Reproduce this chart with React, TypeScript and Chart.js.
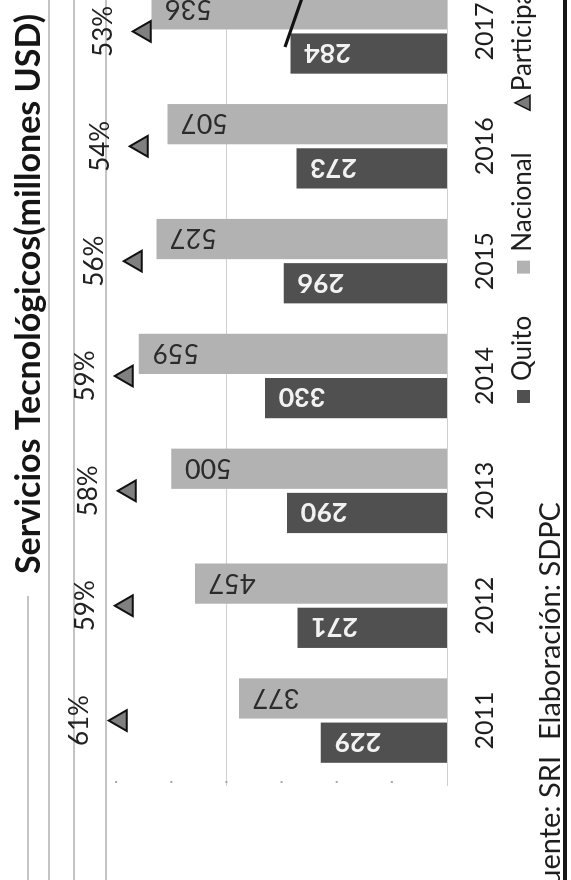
import React, { useEffect, useRef } from "react";
import { Chart, registerables } from "chart.js";

Chart.register(...registerables);

// ---- data ----
const years = ["2011", "2012", "2013", "2014", "2015", "2016", "2017"];
const quito = [229, 271, 290, 330, 296, 273, 284];
const nacional = [377, 457, 500, 559, 527, 507, 536];
const participacion = [61, 59, 58, 59, 56, 54, 53];
const seriesNames = ["Quito", "Nacional", "Participación"];
const titleText = "Servicios Tecnológicos(millones USD)";
const sourceText = "Fuente: SRI";
const creditText = "Elaboración: SDPC";
const minorTicks = [100, 200, 300, 400, 500, 600];

const FONT = "Lato, 'Open Sans', sans-serif";
const DARK = "#505050";
const LIGHT = "#b2b2b2";
const CW = 920; // canvas width (rotated: page height + cut-off part)
const CH = 571; // canvas height (rotated: page width)

export default function App() {
  const ref = useRef<HTMLCanvasElement>(null);

  useEffect(() => {
    const canvas = ref.current;
    if (!canvas) return;

    const decor = {
      id: "decor",
      beforeDatasetsDraw(chart: any) {
        const ctx = chart.ctx as CanvasRenderingContext2D;
        const ca = chart.chartArea;
        const y = chart.scales.y;
        ctx.save();
        // grid lines
        ctx.strokeStyle = "#d0d0d0";
        ctx.lineWidth = 1;
        y.ticks
          .filter((t: any) => t.value % 400 === 0)
          .forEach((t: any) => {
            const py = Math.round(y.getPixelForValue(t.value)) + 0.5;
            ctx.beginPath();
            ctx.moveTo(ca.left - 8, py);
            ctx.lineTo(ca.right, py);
            ctx.stroke();
          });
        // small tick dots
        ctx.fillStyle = "#a8a8a8";
        minorTicks.forEach((val) => {
          const py = y.getPixelForValue(val);
          ctx.fillRect(ca.left - 5, py - 1, 2, 2);
        });
        ctx.restore();
      },
      afterDatasetsDraw(chart: any) {
        const ctx = chart.ctx as CanvasRenderingContext2D;
        const xs = chart.scales.x;
        ctx.save();
        // value labels inside bars (rotated)
        const drawBarLabels = (di: number, vals: number[], color: string, weight: string) => {
          const meta = chart.getDatasetMeta(di);
          meta.data.forEach((bar: any, i: number) => {
            const p = bar.getProps(["x", "y"], true);
            ctx.save();
            ctx.translate(p.x, p.y + 37);
            ctx.rotate(-Math.PI / 2);
            ctx.font = `${weight} 27px ${FONT}`;
            ctx.fillStyle = color;
            ctx.textAlign = "center";
            ctx.textBaseline = "middle";
            ctx.fillText(String(vals[i]), 0, 1);
            ctx.restore();
          });
        };
        drawBarLabels(0, quito, "#f2f2f2", "bold");
        drawBarLabels(1, nacional, "#2b2b2b", "normal");

        // percent labels
        const pm = chart.getDatasetMeta(2);
        ctx.font = `26px ${FONT}`;
        ctx.fillStyle = "#222";
        ctx.textAlign = "center";
        ctx.textBaseline = "alphabetic";
        pm.data.forEach((pt: any, i: number) => {
          const p = pt.getProps(["x", "y"], true);
          ctx.fillText(participacion[i] + "%", p.x, p.y - 33);
        });

        // category labels
        ctx.font = `25px ${FONT}`;
        ctx.fillStyle = "#1e1e1e";
        years.forEach((yr, i) => {
          ctx.fillText(yr, xs.getPixelForValue(i), 493);
        });

        // title
        ctx.font = `bold 34px ${FONT}`;
        ctx.fillStyle = "#151515";
        ctx.fillText(titleText, 586, 40);

        // legend
        ctx.font = `26px ${FONT}`;
        ctx.textAlign = "left";
        let u = 477;
        chart.data.datasets.forEach((ds: any, i: number) => {
          if (i < 2) {
            ctx.fillStyle = ds.backgroundColor;
            ctx.fillRect(u, 517, 13, 13);
          } else {
            ctx.beginPath();
            ctx.moveTo(u + 7.5, 515);
            ctx.lineTo(u + 15, 530);
            ctx.lineTo(u, 530);
            ctx.closePath();
            ctx.fillStyle = "#7a7a7a";
            ctx.fill();
            ctx.strokeStyle = "#111";
            ctx.lineWidth = 1.5;
            ctx.stroke();
          }
          u += i < 2 ? 22 : 19;
          ctx.fillStyle = "#1e1e1e";
          ctx.fillText(ds.label, u, 531);
          u += ctx.measureText(ds.label).width + 42;
        });

        // footer
        ctx.font = `29px ${FONT}`;
        ctx.textAlign = "right";
        ctx.fillText(sourceText, 124, 560);
        ctx.textAlign = "left";
        ctx.fillText(creditText, 140, 560);
        ctx.strokeStyle = "#161616";
        ctx.lineWidth = 4;
        ctx.beginPath();
        ctx.moveTo(0, 565);
        ctx.lineTo(CW, 565);
        ctx.stroke();

        // pen mark on the scan
        ctx.lineWidth = 3;
        ctx.strokeStyle = "#111";
        ctx.beginPath();
        ctx.moveTo(905, 310);
        ctx.lineTo(833, 285);
        ctx.stroke();
        ctx.restore();
      },
    };

    const chart = new Chart(canvas, {
      type: "bar",
      data: {
        labels: years,
        datasets: [
          {
            label: seriesNames[0],
            data: quito,
            backgroundColor: DARK,
            yAxisID: "y",
            categoryPercentage: 0.77,
            barPercentage: 0.91,
            order: 1,
          },
          {
            label: seriesNames[1],
            data: nacional,
            backgroundColor: LIGHT,
            yAxisID: "y",
            categoryPercentage: 0.77,
            barPercentage: 0.91,
            order: 1,
          },
          {
            type: "line",
            label: seriesNames[2],
            data: participacion,
            yAxisID: "y2",
            showLine: false,
            pointStyle: "triangle",
            pointRadius: 12,
            pointBackgroundColor: "#808080",
            pointBorderColor: "#111",
            pointBorderWidth: 2,
            order: 0,
          } as any,
        ],
      },
      options: {
        animation: false,
        responsive: false,
        maintainAspectRatio: false,
        layout: { padding: { left: 102, right: 10, top: 61, bottom: 124 } },
        plugins: {
          legend: { display: false },
          title: { display: false },
          tooltip: { enabled: false },
        },
        scales: {
          x: { display: false, offset: true },
          y: { display: false, min: 0, max: 700, ticks: { stepSize: 100 } },
          y2: { display: false, min: -48, max: 81, position: "right" },
        },
      },
      plugins: [decor],
    });

    return () => chart.destroy();
  }, []);

  const pageLine = (left: number, top: number, height: number) => (
    <div
      style={{
        position: "absolute",
        left,
        top,
        width: 2,
        height,
        background: "#c4c4c4",
      }}
    />
  );

  return (
    <div
      style={{
        position: "absolute",
        left: 0,
        top: 0,
        width: 571,
        height: 880,
        overflow: "hidden",
        background: "#ffffff",
      }}
    >
      {pageLine(27, 596, 284)}
      {pageLine(48, 0, 880)}
      {pageLine(73, 0, 880)}
      {pageLine(105, 0, 880)}
      <div
        style={{
          position: "absolute",
          left: 0,
          top: 0,
          width: CW,
          height: CH,
          transformOrigin: "0 0",
          transform: "translate(0px, 880px) rotate(-90deg)",
        }}
      >
        <canvas ref={ref} width={CW} height={CH} style={{ display: "block", width: CW, height: CH }} />
      </div>
    </div>
  );
}
